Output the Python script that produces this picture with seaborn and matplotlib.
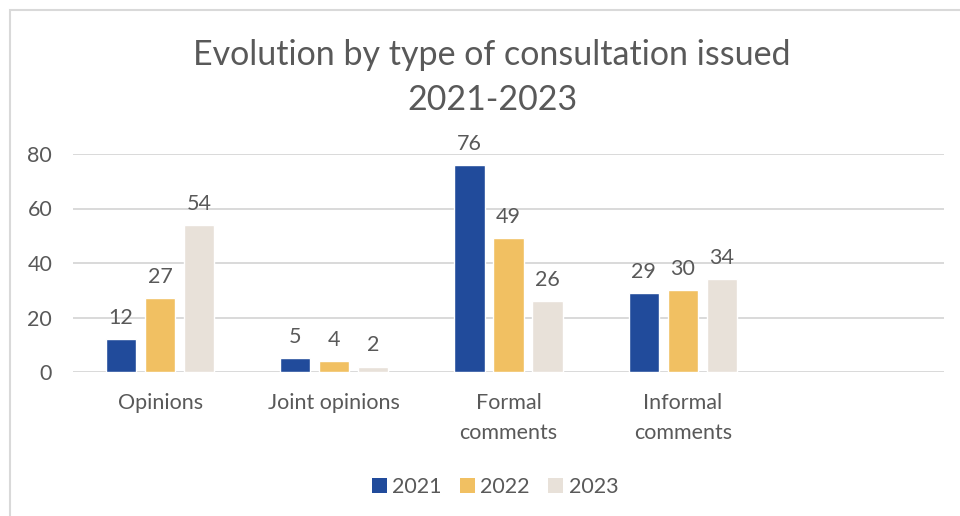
import matplotlib
matplotlib.use("Agg")
import matplotlib.pyplot as plt
import seaborn as sns
import pandas as pd
from matplotlib.patches import Rectangle, Patch

categories = ["Opinions", "Joint opinions", "Formal\ncomments", "Informal\ncomments"]
years = ["2021", "2022", "2023"]
v2021 = [12, 5, 76, 29]
v2022 = [27, 4, 49, 30]
v2023 = [54, 2, 26, 34]
colors = ["#214B9B", "#F1C062", "#E8E1D9"]
yticks = [0, 20, 40, 60, 80]

rows = []
for yr, vals in zip(years, [v2021, v2022, v2023]):
    for c, v in zip(categories, vals):
        rows.append({"cat": c, "year": yr, "value": v})
df = pd.DataFrame(rows)

sns.set_theme(style="white")
plt.rcParams["font.family"] = ["Lato", "DejaVu Sans"]
txt = "#595959"
fs = 15.5

fig = plt.figure(figsize=(9.6, 5.16), dpi=100)
ax = fig.add_axes([73/960, 1-372/516, (944-73)/960, (372-154)/516])

sns.barplot(data=df, x="cat", y="value", hue="year", order=categories + [""],
            hue_order=years, palette=colors, width=0.672, gap=0.23,
            legend=False, ax=ax, saturation=1)

for cont in ax.containers:
    ax.bar_label(cont, padding=8, fontsize=fs, color=txt)

ax.set_xlim(-0.5, 4.5)
ax.set_ylim(0, 80)
ax.set_yticks(yticks)
ax.grid(axis="y", color="#D9D9D9", linewidth=1.4)
ax.set_axisbelow(True)
for s in ax.spines.values():
    s.set_visible(False)
ax.set_xlabel("")
ax.set_ylabel("")
ax.tick_params(axis="x", length=0, pad=15, labelsize=fs, labelcolor=txt)
ax.tick_params(axis="y", length=0, pad=15, labelsize=fs, labelcolor=txt)
for lab in ax.get_xticklabels():
    lab.set_linespacing(1.65)

fig.text(492/960, 1-55/516, "Evolution by type of consultation issued",
         ha="center", va="center", fontsize=24.5, color=txt)
fig.text(492/960, 1-100/516, "2021-2023", ha="center", va="center",
         fontsize=24.5, color=txt)

handles = [Patch(facecolor=c, edgecolor="none") for c in colors]
fig.legend(handles, years, loc="center", bbox_to_anchor=(495/960, 1-487/516),
           ncol=3, frameon=False, fontsize=fs, labelcolor=txt,
           handlelength=0.7, handleheight=0.7, handletextpad=0.25,
           columnspacing=0.85)

fig.add_artist(Rectangle((10/960, -0.01), 1.0, 1 - 10/516 + 0.01,
                         transform=fig.transFigure, fill=False,
                         edgecolor="#D9D9D9", linewidth=1.5))

fig.savefig("out.png", dpi=100)
